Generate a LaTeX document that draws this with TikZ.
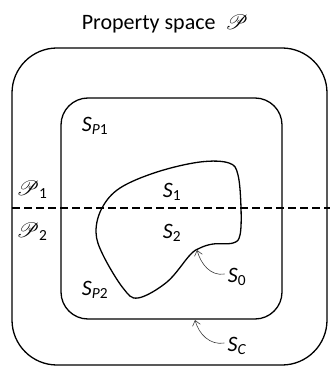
\documentclass[tikz,border=0pt]{standalone}
\usepackage{fontspec}
\setmainfont{Carlito}
\usepackage{mathrsfs}
\usetikzlibrary{arrows.meta,positioning}
\newcommand{\symS}[1]{\textit{S}\textsubscript{#1}}

\begin{document}
\begin{tikzpicture}[
  x=1pt,y=-1pt,
  region/.style={draw,line width=1.3pt,rounded corners=#1},
  lbl/.style={font=\fontsize{22}{26}\selectfont,inner sep=0pt},
  ptr/.style={-{Straight Barb[length=5pt,width=8pt]},draw=black!75,line width=0.6pt}
]
\useasboundingbox (0,0) rectangle (330,366);
% property space and the two bounding sets
\draw[region=45pt] (12,48) rectangle (327,365);
\draw[region=27pt] (61,98) rectangle (282,319);
\coordinate (cutL) at (12,208);
\coordinate (cutR) at (330,208);
\draw[line width=1.3pt,dash pattern=on 8pt off 4pt] (cutL) -- (cutR);
% the set S_0
\draw[line width=1.3pt] plot[smooth cycle,tension=0.6] coordinates {
  (102,208) (120,188) (157,172) (200,162) (229,163) (238,175) (241,208)
  (240,235) (233,243) (213,244) (200,248) (190,255) (167,282) (138,298)
  (123,288) (103,255) (96,232)};
\node[lbl] (title) at (165,24) {Property space\ \ $\mathscr{P}$};
\node[lbl] (pp1) at (32,190) {$\mathscr{P}$\textsubscript{1}};
\node[lbl] (pp2) at (32,232) {$\mathscr{P}$\textsubscript{2}};
\node[lbl] (sp1) at (95,126) {\symS{\textit{P}1}};
\node[lbl] (sp2) at (95,290) {\symS{\textit{P}2}};
\node[lbl] (s1) at (172,192) {\symS{1}};
\node[lbl] (s2) at (172,233) {\symS{2}};
\node[lbl] (s0) at (237,277) {\symS{0}};
\node[lbl] (sc) at (237,346) {\symS{\textit{C}}};
\coordinate (s0tip) at (197,250);
\coordinate (sctip) at (195,320);
\draw[ptr] (s0.west) ++(-3,-3) to[out=190,in=-75] (s0tip);
\draw[ptr] (sc.west) ++(-3,-3) to[out=190,in=-75] (sctip);
\end{tikzpicture}
\end{document}
